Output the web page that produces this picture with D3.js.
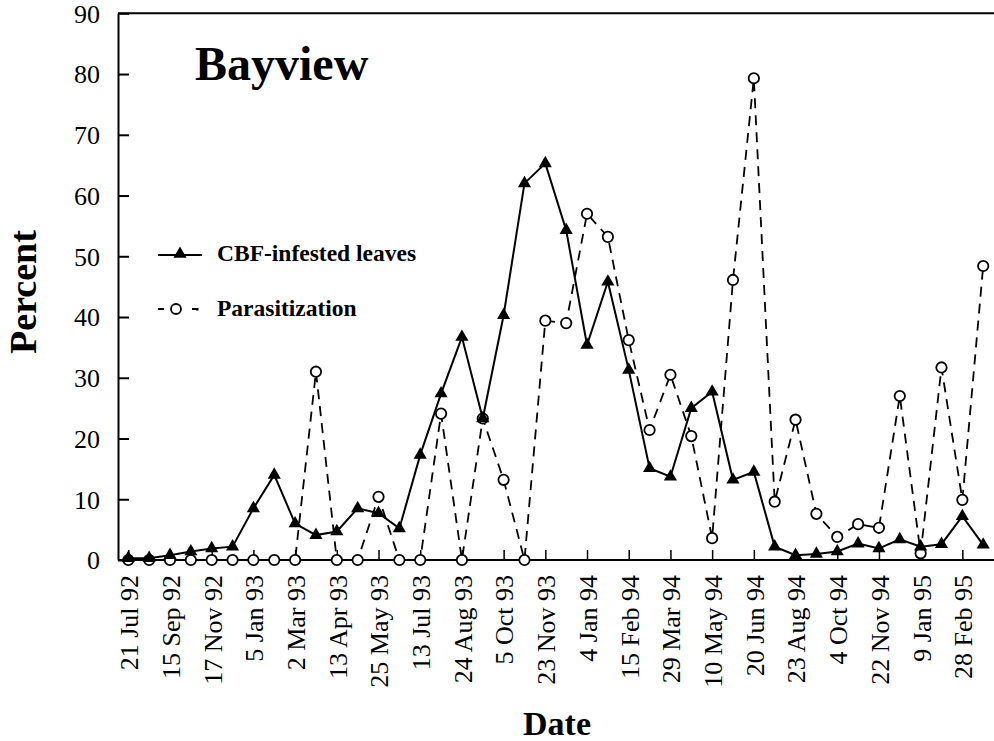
<!DOCTYPE html>
<html>
<head>
<meta charset="utf-8">
<script src="https://cdn.jsdelivr.net/npm/d3@7"></script>
<style>
  html, body { margin: 0; padding: 0; background: #fff; }
  svg { display: block; }
  text { font-family: "Liberation Serif", "Times New Roman", serif; fill: #000; }
</style>
</head>
<body>
<svg id="chart" width="994" height="741"></svg>
<script>
// ---- data ----
const dateLabels = ["21 Jul 92","15 Sep 92","17 Nov 92","5 Jan 93","2 Mar 93","13 Apr 93","25 May 93",
  "13 Jul 93","24 Aug 93","5 Oct 93","23 Nov 93","4 Jan 94","15 Feb 94","29 Mar 94","10 May 94",
  "20 Jun 94","23 Aug 94","4 Oct 94","22 Nov 94","9 Jan 95","28 Feb 95"];
const sampleIndex = d3.range(42); // sampling occasions (every other one labelled)
const cbfInfested = [0.3,0.3,0.8,1.4,1.9,2.2,8.5,14.0,6.0,4.1,4.7,8.5,7.7,5.2,17.3,27.4,36.7,23.3,40.3,62.0,
  65.3,54.3,35.4,45.8,31.3,15.1,13.7,25.0,27.7,13.2,14.5,2.2,0.8,1.0,1.4,2.7,1.9,3.4,2.2,2.6,7.2,2.5];
const parasitization = [0,0,0,0,0,0,0,0,0,31.0,0,0,10.4,0,0,24.1,0,23.3,13.2,0,39.4,39.0,57.0,53.2,36.2,
  21.4,30.5,20.4,3.6,46.1,79.3,9.6,23.1,7.6,3.8,5.9,5.3,27.0,1.1,31.7,9.9,48.4];
const yTicks = [0,10,20,30,40,50,60,70,80,90];

// ---- layout ----
const svg = d3.select("#chart");
const pLeft = 118, pRight = 994, pTop = 13.3, pBottom = 560;
const x = d3.scalePoint().domain(sampleIndex).range([128.3, 983.2]);
const y = d3.scaleLinear().domain([0, 90]).range([pBottom, pTop]);

// frame: top border
svg.append("line").attr("x1", pLeft).attr("x2", pRight).attr("y1", pTop).attr("y2", pTop)
  .attr("stroke", "#000").attr("stroke-width", 2);

// y axis (inward ticks)
const yAxis = svg.append("g").attr("transform", `translate(${pLeft},0)`)
  .call(d3.axisLeft(y).tickValues(yTicks).tickSize(-11).tickPadding(18).tickSizeOuter(0));
yAxis.select(".domain").attr("stroke-width", 2);
yAxis.selectAll(".tick line").attr("stroke-width", 2);
yAxis.selectAll(".tick text").attr("font-size", 26).attr("font-family", "Liberation Serif").attr("dy", "0.34em");

// x axis (inward ticks at labelled dates)
const xAxis = svg.append("g").attr("transform", `translate(0,${pBottom})`)
  .call(d3.axisBottom(x).tickValues(sampleIndex.filter(i => i % 2 === 0))
    .tickFormat(i => dateLabels[i / 2]).tickSize(-10).tickSizeOuter(0));
xAxis.select(".domain").attr("d", `M${pLeft},0H${pRight}`).attr("stroke-width", 2);
xAxis.selectAll(".tick line").attr("stroke-width", 1.5);
xAxis.selectAll(".tick text")
  .attr("font-size", 26).attr("font-family", "Liberation Serif")
  .attr("text-anchor", "end")
  .attr("transform", "rotate(-90)")
  .attr("x", -15).attr("y", 0).attr("dy", "0.36em");

// lines
const lineGen = arr => d3.line().x((d, i) => x(i)).y(d => y(d))(arr);
svg.append("path").attr("d", lineGen(parasitization)).attr("fill", "none")
  .attr("stroke", "#000").attr("stroke-width", 1.8).attr("stroke-dasharray", "10,7");
svg.append("path").attr("d", lineGen(cbfInfested)).attr("fill", "none")
  .attr("stroke", "#000").attr("stroke-width", 2);

// markers
svg.append("g").selectAll("circle").data(parasitization).join("circle")
  .attr("cx", (d, i) => x(i)).attr("cy", d => y(d)).attr("r", 5.2)
  .attr("fill", "#fff").attr("stroke", "#000").attr("stroke-width", 1.8);
const tri = d3.symbol().type(d3.symbolTriangle).size(75);
svg.append("g").selectAll("path").data(cbfInfested).join("path")
  .attr("d", tri).attr("transform", (d, i) => `translate(${x(i)},${y(d)})`).attr("fill", "#000");

// title
svg.append("text").attr("x", 195).attr("y", 80).attr("font-size", 48).attr("font-weight", "bold").text("Bayview");

// legend
svg.append("line").attr("x1", 158).attr("x2", 202).attr("y1", 255).attr("y2", 255).attr("stroke", "#000").attr("stroke-width", 2);
svg.append("path").attr("d", tri).attr("transform", "translate(180,254)").attr("fill", "#000");
svg.append("text").attr("x", 217).attr("y", 261).attr("font-size", 23.5).attr("font-weight", "bold").text("CBF-infested leaves");
svg.append("line").attr("x1", 158).attr("x2", 200).attr("y1", 309).attr("y2", 309).attr("stroke", "#000")
  .attr("stroke-width", 1.8).attr("stroke-dasharray", "6,11,0,0");
svg.append("circle").attr("cx", 176).attr("cy", 309).attr("r", 5).attr("fill", "#fff").attr("stroke", "#000").attr("stroke-width", 1.8);
svg.append("rect").attr("x", 196).attr("y", 308).attr("width", 2.5).attr("height", 2.5).attr("fill", "#000");
svg.append("text").attr("x", 217).attr("y", 316).attr("font-size", 23.5).attr("font-weight", "bold").text("Parasitization");

// axis titles
svg.append("text").attr("transform", "translate(36,292) rotate(-90)").attr("text-anchor", "middle")
  .attr("font-size", 38).attr("font-weight", "bold").text("Percent");
svg.append("text").attr("x", 557).attr("y", 735).attr("text-anchor", "middle")
  .attr("font-size", 34).attr("font-weight", "bold").text("Date");
</script>
</body>
</html>
